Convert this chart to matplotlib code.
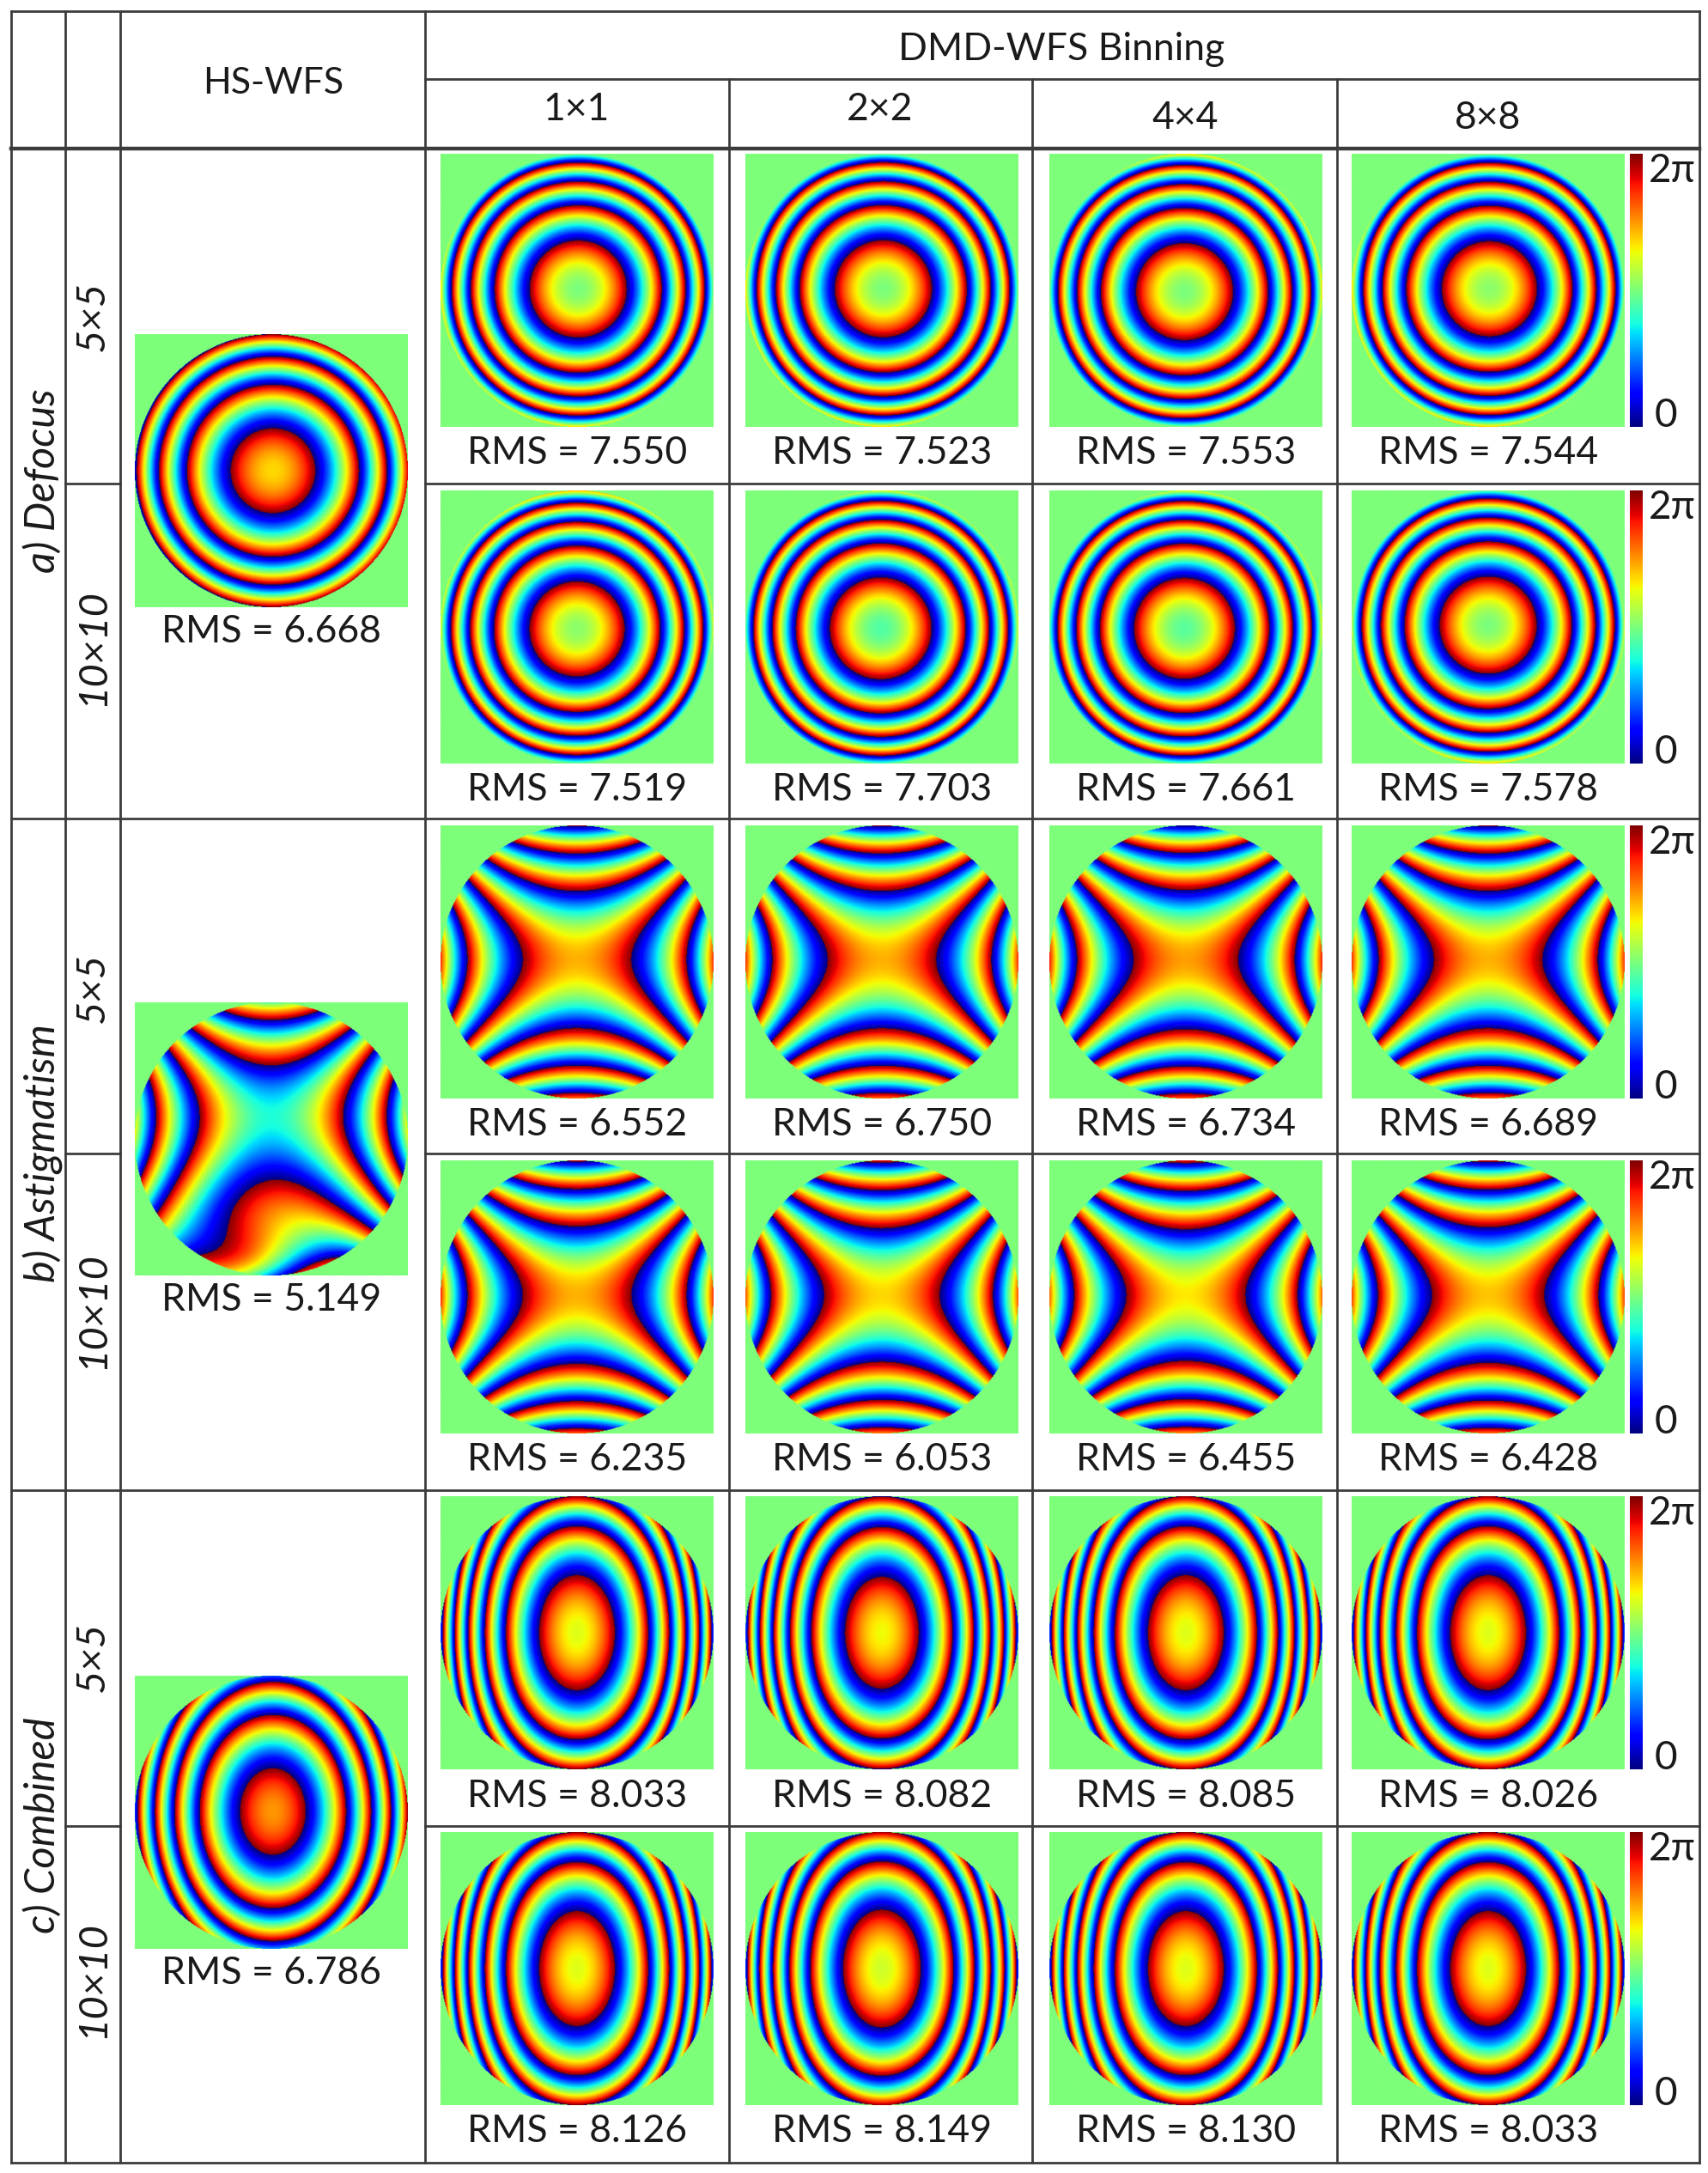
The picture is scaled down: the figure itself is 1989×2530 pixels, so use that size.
import numpy as np
import matplotlib
matplotlib.use('Agg')
import matplotlib.pyplot as plt

plt.rcParams['font.family'] = ['Lato', 'DejaVu Sans']

W, H = 1990, 2530
INK = '#3c3c3c'
TXT = '#1a1a1a'

columns = ['1×1', '2×2', '4×4', '8×8']
groups = ['a) Defocus', 'b) Astigmatism', 'c) Combined']
rows = ['5×5', '10×10']

hs_rms = ['6.668', '5.149', '6.786']
dmd_rms = [
    ['7.550', '7.523', '7.553', '7.544'],
    ['7.519', '7.703', '7.661', '7.578'],
    ['6.552', '6.750', '6.734', '6.689'],
    ['6.235', '6.053', '6.455', '6.428'],
    ['8.033', '8.082', '8.085', '8.026'],
    ['8.126', '8.149', '8.130', '8.033'],
]

# phase polynomial in waves: c, tx, ty, x2, y2, x4, y4, x2y2
defocus_base = [0.50, 0.0, 0.0, 3.95, 3.95, 0.15, 0.15, 0.0]
astig_base = [0.70, 0.0, 0.10, 1.70, -2.85, 0.45, 0.0, 0.0]
combined_base = [0.62, 0.0, 0.0, 4.90, 2.10, 0.70, 0.28, 0.0]
group_base = [defocus_base, defocus_base, astig_base, astig_base, combined_base, combined_base]

# centre phase (waves) of each DMD panel
dmd_centre = [
    [0.50, 0.50, 0.50, 0.52],
    [0.52, 0.45, 0.46, 0.50],
    [0.72, 0.72, 0.74, 0.72],
    [0.72, 0.68, 0.66, 0.70],
    [0.62, 0.64, 0.62, 0.62],
    [0.62, 0.60, 0.62, 0.62],
]
# residual tilt of each DMD panel, read from where the thin outer arc shows
dmd_tilt_x = [
    [-0.07, -0.08, 0.08, -0.07],
    [0.00, 0.07, 0.08, 0.00],
    [0.00, 0.00, 0.00, 0.00],
    [0.00, 0.00, 0.00, 0.00],
    [0.00, 0.00, 0.00, 0.00],
    [0.00, 0.00, 0.00, 0.00],
]
dmd_tilt_y = [
    [-0.08, -0.09, 0.08, -0.09],
    [0.11, 0.08, 0.08, -0.11],
    [0.10, 0.10, 0.10, 0.10],
    [0.08, 0.08, 0.08, 0.08],
    [0.00, 0.00, 0.00, 0.00],
    [0.00, 0.00, 0.00, 0.00],
]

hs_defocus = [0.68, -0.08, 0.0, 3.33, 3.33, 0.0, 0.0, 0.0]
hs_combined = [0.75, -0.10, -0.03, 4.35, 2.50, 0.0, 0.0, 0.0]
hs_astig = [0.30, 0.0, 0.95, 2.20, -2.80, 0.10, 0.0, 0.0]
hs_astig_bump = [3.10, -0.20, -1.15, 0.56, 0.38]  # amplitude, x, y, x width, y width

col_lines = [13, 76, 140, 495, 849, 1202, 1557, 1979]
row_lines = [13, 92, 173, 563, 953, 1343, 1735, 2126, 2518]
panel_x = [513, 868, 1222, 1574]
panel_y = [179, 571, 961, 1351, 1742, 2133]
hs_y = [389, 1167, 1951]
hs_x = 157
PANEL = 318
cbar_x = (1898, 1913)

N = 360
u = (np.arange(N) + 0.5) / N * 2 - 1
X, Y = np.meshgrid(u, -u)
MASK = X**2 + Y**2 <= 1.0


def phase(p):
    c, tx, ty, a, b, e, f, g = p
    return (c + tx*X + ty*Y + a*X**2 + b*Y**2 + e*X**4 + f*Y**4 + g*X**2*Y**2)


def wrap(ph):
    v = np.mod(ph, 1.0)
    v[~MASK] = 0.5
    return v


fig = plt.figure(figsize=(W/100, H/100), dpi=100)
ax = fig.add_axes([0, 0, 1, 1])
ax.axis('off')


def show(v, x0, y0, w=PANEL, h=PANEL):
    ax.imshow(v, extent=(x0, x0+w, y0+h, y0), cmap='jet', vmin=0, vmax=1,
              interpolation='bilinear', interpolation_stage='rgba', aspect='auto', zorder=1)


FS = 32
for i in range(6):
    for j in range(4):
        p = list(group_base[i])
        p[0] = dmd_centre[i][j]
        p[1] = dmd_tilt_x[i][j]
        p[2] = dmd_tilt_y[i][j]
        show(wrap(phase(p)), panel_x[j], panel_y[i])
        ax.text(panel_x[j]+PANEL/2, panel_y[i]+PANEL+31, f'RMS = {dmd_rms[i][j]}',
                ha='center', va='center', fontsize=FS, color=TXT)
    bar = np.linspace(1, 0, 256)[:, None]
    ax.imshow(bar, extent=(cbar_x[0], cbar_x[1], panel_y[i]+PANEL, panel_y[i]), cmap='jet',
              vmin=0, vmax=1, aspect='auto', zorder=1)
    ax.text(1947, panel_y[i]+20, '2π', ha='center', va='center', fontsize=33, color=TXT)
    ax.text(1940, panel_y[i]+305, '0', ha='center', va='center', fontsize=33, color=TXT)

ph_ast = phase(hs_astig)
A, bx, by, sx, sy = hs_astig_bump
ph_ast = ph_ast + A*np.exp(-(X-bx)**2/(2*sx**2) - (Y-by)**2/(2*sy**2))
for ph, y0, rms in zip([phase(hs_defocus), ph_ast, phase(hs_combined)], hs_y, hs_rms):
    show(wrap(ph), hs_x, y0)
    ax.text(hs_x+PANEL/2, y0+PANEL+28, f'RMS = {rms}', ha='center', va='center', fontsize=FS, color=TXT)

# grid
thin, thick = 2.0, 3.2
L = dict(color=INK, zorder=3, solid_capstyle='projecting')
top, bot = row_lines[0], row_lines[-1]
for x in col_lines[:4] + col_lines[7:]:
    ax.plot([x, x], [top, bot], lw=thin, **L)
for x in col_lines[4:7]:
    ax.plot([x, x], [row_lines[1], bot], lw=thin, **L)
ax.plot([13, 1979], [top, top], lw=thin, **L)
ax.plot([495, 1979], [92, 92], lw=thin, **L)
ax.plot([13, 1979], [173, 173], lw=thick, **L)
for y in [563, 1343, 2126]:
    ax.plot([76, 140], [y, y], lw=thin, **L)
    ax.plot([495, 1979], [y, y], lw=thin, **L)
for y in [953, 1735, 2518]:
    ax.plot([13, 1979], [y, y], lw=thin, **L)

# headers
ax.text(1236, 57, 'DMD-WFS Binning', ha='center', va='center', fontsize=FS, color=TXT)
ax.text(318, 97, 'HS-WFS', ha='center', va='center', fontsize=31, color=TXT)
for x, y, t in zip([671, 1025, 1380, 1733], [128, 128, 137, 137], columns):
    ax.text(x, y, t, ha='center', va='center', fontsize=FS, color=TXT)

for y, t in zip([560, 1343, 2125], groups):
    ax.text(50, y, t, rotation=90, style='italic', ha='center', va='center', fontsize=35, color=TXT)
for y, t in zip([368, 754, 1150, 1526, 1929, 2305], rows*3):
    ax.text(108, y, t, rotation=90, style='italic', ha='center', va='center', fontsize=34, color=TXT)

ax.set_xlim(0, W)
ax.set_ylim(H, 0)
fig.savefig('out.png', dpi=100, facecolor='white')
